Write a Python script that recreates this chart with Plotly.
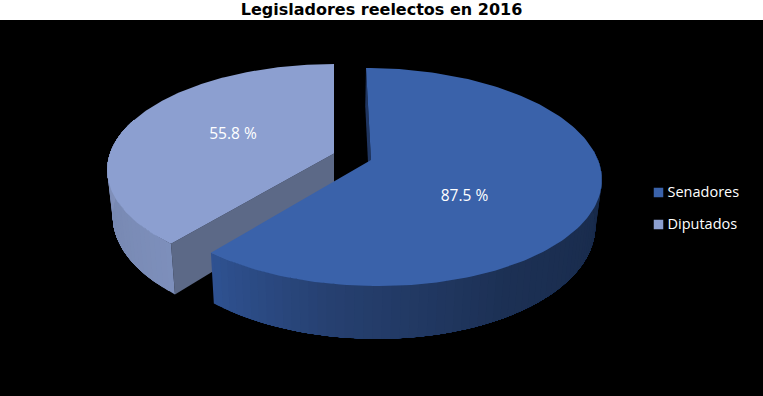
import numpy as np
import plotly.graph_objects as go

categories = ["Senadores", "Diputados"]
values = [87.5, 55.8]
title_text = "Legisladores reelectos en 2016"

W, H, TOP = 763, 396, 20
VP_X = 334          # horizontal vanishing position of the perspective
K = 0.156           # perspective strength
WALL = 44.5         # wall height before perspective
WALL_SHRINK = 0.976 # the lower rim lies further from the eye

TOP_COLORS = ["#3A62AA", "#8C9FD0"]
WALL_SIDE = "#5C6987"
SLIVER = "#1F3560"
RIM_STOPS = [
    [(100, (24, 42, 74)), (150, (28, 48, 84)), (190, (38, 64, 112)), (220, (47, 82, 146))],
    [(220, (125, 143, 187)), (250, (120, 137, 178)), (280, (134, 149, 192)), (300, (134, 149, 192))],
]

# piece apex on screen, x offset from vanishing point, depth scale, radius
PIECES = [
    dict(cy=160.0, off=37.0, a=106.4, r=227.0),
    dict(cy=153.5, off=0.0, a=103.5, r=224.0),
]

total = sum(values)
sweep = 360.0 * values[0] / total


def project(p, theta_deg, radius=1.0, lower=False):
    t = np.radians(theta_deg)
    c = -np.cos(t) * radius
    s = 1.0 / (1.0 - K * c)
    x = VP_X + (p["off"] + p["r"] * radius * np.sin(t)) * s
    y = p["cy"] + p["a"] * c * s
    if lower:
        x = VP_X + (x - VP_X) * WALL_SHRINK
        y = y + WALL * s
    return x, y


def poly(fig, xs, ys, color):
    fig.add_trace(go.Scatter(
        x=list(xs) + [xs[0]], y=list(ys) + [ys[0]], mode="lines", fill="toself",
        fillcolor=color, line=dict(width=0),
        hoverinfo="skip", showlegend=False))


def rim_color(stops, th):
    ths = [s[0] for s in stops]
    rgb = [np.interp(th, ths, [s[1][i] for s in stops]) for i in range(3)]
    return "rgb(%d,%d,%d)" % tuple(int(round(v)) for v in rgb)


fig = go.Figure()

ranges = [(0.0, sweep), (sweep, 360.0)]
for idx in (1, 0):
    p = PIECES[idx]
    a0, a1 = ranges[idx]
    # flat cut wall
    x0, y0 = project(p, a0, 0.0)
    x1, y1 = project(p, a0)
    x2, y2 = project(p, a0, lower=True)
    x3, y3 = project(p, a0, 0.0, lower=True)
    poly(fig, [x0, x1, x2, x3], [y0, y1, y2, y3], WALL_SIDE if idx == 1 else SLIVER)
    # curved outer wall, painted one overlapping band after another
    lo = max(a0, 85.0) if idx == 0 else a0
    hi = a1 if idx == 0 else min(a1, 290.0)
    edges = np.arange(lo, hi + 0.01, 2.0)
    if edges[-1] < hi:
        edges = np.append(edges, hi)
    if idx == 1:
        bands = [(e, edges[-1], e) for e in edges[:-1]]
    else:
        bands = [(edges[0], e, e - 2.0) for e in edges[1:]][::-1]
    for th0, th1, mark in bands:
        arc = np.linspace(th0, th1, max(2, int((th1 - th0) / 2) + 2))
        up = [project(p, v) for v in arc]
        dn = [project(p, v, lower=True) for v in arc[::-1]]
        poly(fig, [q[0] for q in up + dn], [q[1] for q in up + dn],
             rim_color(RIM_STOPS[idx], mark + 1))
    # top face
    th = np.linspace(a0, a1, 160)
    pts = [project(p, v) for v in th]
    xs = [project(p, a0, 0.0)[0]] + [q[0] for q in pts]
    ys = [project(p, a0, 0.0)[1]] + [q[1] for q in pts]
    poly(fig, xs, ys, TOP_COLORS[idx])

# value labels
LABEL_POS = [(464.5, 197), (233, 135)]
fig.add_trace(go.Scatter(
    x=[q[0] for q in LABEL_POS], y=[q[1] for q in LABEL_POS], mode="text",
    text=[f"{v} %" for v in values],
    textfont=dict(family="Open Sans", size=15.5, color="white"),
    hoverinfo="skip", showlegend=False))

# legend
LEGEND_X = 658.5
LEGEND_Y = [192.5, 224.5]
fig.add_trace(go.Scatter(
    x=[LEGEND_X] * 2, y=LEGEND_Y, mode="markers",
    marker=dict(symbol="square", size=9.5, color=TOP_COLORS, line=dict(width=0)),
    hoverinfo="skip", showlegend=False))
fig.add_trace(go.Scatter(
    x=[667.5] * 2, y=[v + 1 for v in LEGEND_Y], mode="text", text=categories, textposition="middle right",
    textfont=dict(family="Open Sans", size=14.5, color="white"),
    hoverinfo="skip", showlegend=False))

fig.update_layout(
    width=W, height=H, autosize=False,
    margin=dict(l=0, r=0, t=TOP, b=0),
    paper_bgcolor="white", plot_bgcolor="black",
    title=dict(text=f"<b>{title_text}</b>", x=0.5, xanchor="center", y=0.99, yanchor="top",
               font=dict(family="DejaVu Sans", size=16, color="black"), pad=dict(t=0, b=0)),
    xaxis=dict(range=[0, W], visible=False, fixedrange=True),
    yaxis=dict(range=[H, TOP], visible=False, fixedrange=True),
    showlegend=False,
)

fig.write_html("out.html", config=dict(displayModeBar=False),
               post_script="document.body.style.margin='0';document.body.style.overflow='hidden';")
